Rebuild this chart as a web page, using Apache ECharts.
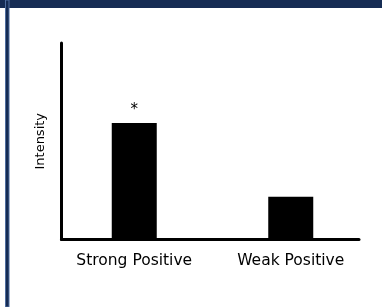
<!DOCTYPE html>
<html>
<head>
    <meta charset="utf-8">
    <title></title>
    <script type="text/javascript" src="https://cdn.jsdelivr.net/npm/echarts@6/dist/echarts.min.js"></script>
</head>
<body style="margin:0">

<div id="main" style="width: 382px;height:307px;"></div>
<script type="text/javascript">
    // 数据
    var categories = ['Strong Positive', 'Weak Positive'];
    var intensity = [59.3, 21.8];
    var marks = ['*', ''];
    var yMax = 100;

    var myChart = echarts.init(document.getElementById('main'));

    var font = 'DejaVu Sans, Verdana, sans-serif';

    option = {
        backgroundColor: '#ffffff',
        animation: false,
        graphic: [
            // 顶部和左侧的深蓝色边框
            {type: 'rect', shape: {x: 0, y: 0, width: 382, height: 8}, style: {fill: '#162c54'}},
            {type: 'rect', shape: {x: 5.5, y: 0, width: 3.5, height: 307}, style: {fill: '#162c54', stroke: '#4f6d9e', lineWidth: 1}}
        ],
        grid: [
            // 坐标轴框
            {left: 61.5, right: 23, top: 43, bottom: 67.5},
            // 柱子
            {left: 56, right: 13, top: 43, bottom: 67.5}
        ],
        xAxis: [{
            gridIndex: 0,
            type: 'value',
            min: 0,
            max: 1,
            axisLine: {show: true, lineStyle: {color: '#000', width: 3}},
            axisTick: {show: false},
            axisLabel: {show: false},
            splitLine: {show: false}
        }, {
            gridIndex: 1,
            type: 'category',
            data: categories,
            axisLine: {show: false},
            axisTick: {show: false},
            axisLabel: {
                margin: 13,
                color: '#000',
                fontSize: 15.5,
                fontFamily: font
            }
        }],
        yAxis: [{
            gridIndex: 0,
            type: 'value',
            min: 0,
            max: yMax,
            name: 'Intensity',
            nameLocation: 'middle',
            nameRotate: 90,
            nameGap: 14,
            nameTextStyle: {color: '#000', fontSize: 13, fontFamily: font},
            axisLine: {show: true, lineStyle: {color: '#000', width: 3}},
            axisTick: {show: false},
            axisLabel: {show: false},
            splitLine: {show: false}
        }, {
            gridIndex: 1,
            type: 'value',
            min: 0,
            max: yMax,
            show: false
        }],
        series: [{
            name: 'Intensity',
            type: 'bar',
            xAxisIndex: 1,
            yAxisIndex: 1,
            barWidth: 45,
            data: intensity,
            itemStyle: {color: '#000'},
            label: {
                show: true,
                position: 'top',
                distance: 5,
                color: '#000',
                fontSize: 15,
                fontFamily: font,
                formatter: function (p) {
                    return marks[p.dataIndex];
                }
            }
        }]
    };

    myChart.setOption(option);
</script>

</body>
</html>
